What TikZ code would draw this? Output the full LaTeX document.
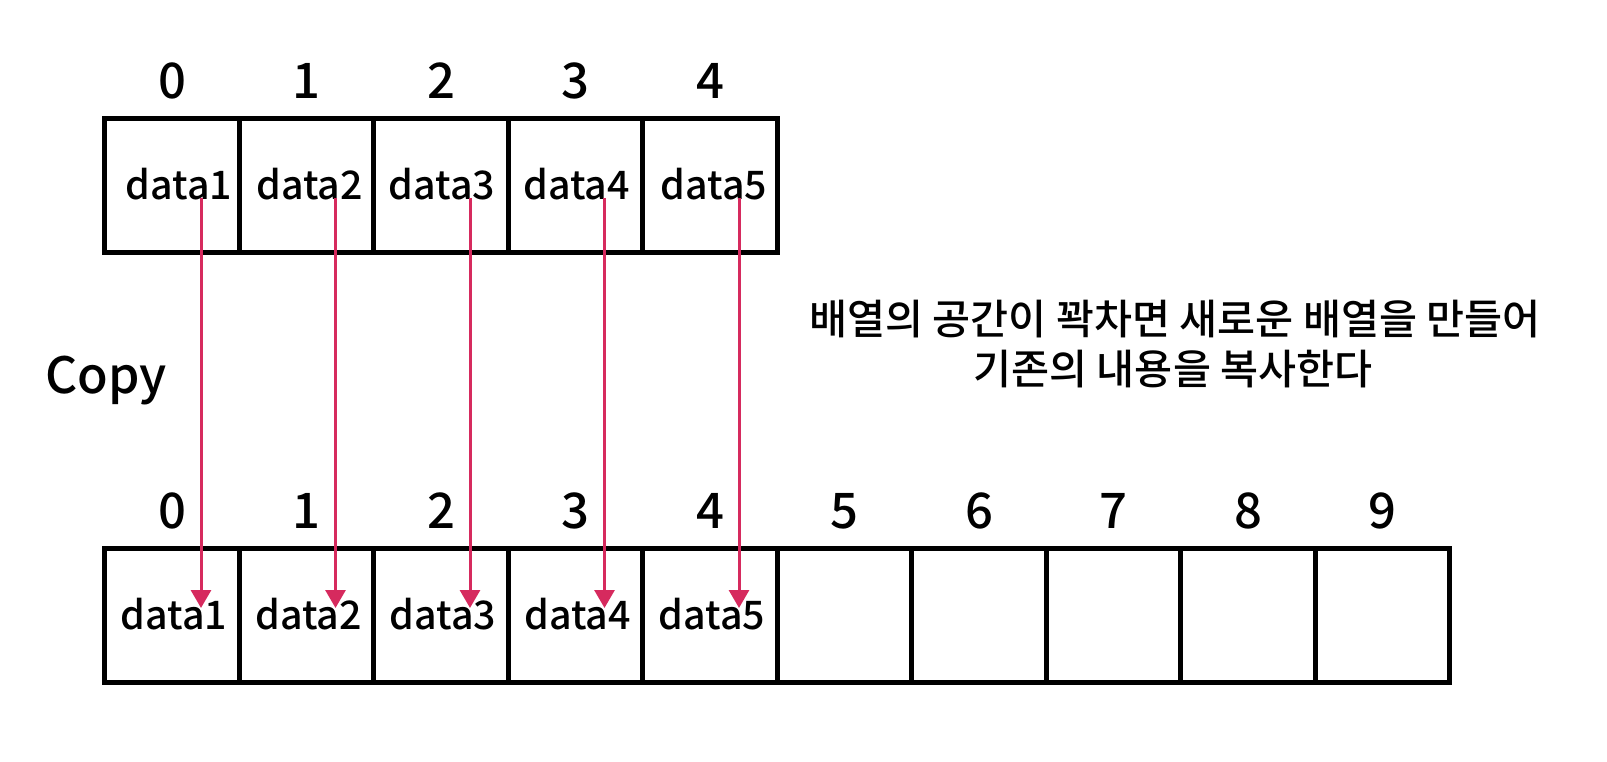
\documentclass[tikz,border=0pt]{standalone}
\usepackage{fontspec}
\setmainfont{Noto Sans CJK KR Medium}
\usetikzlibrary{arrows.meta}
\definecolor{arrowpink}{HTML}{D62A5E}
\begin{document}
\begin{tikzpicture}[x=0.75pt,y=-0.75pt,
  cellbox/.style={draw=black,line width=3.4pt,minimum width=134.5*0.75pt,minimum height=134*0.75pt,inner sep=0pt,outer sep=0pt},
  idxtext/.style={anchor=base,inner sep=0pt,font=\fontsize{36.75pt}{40pt}\selectfont},
  datatext/.style={anchor=base,inner sep=0pt,font=\fontsize{29.5pt}{34pt}\selectfont},
  copyarrow/.style={draw=arrowpink,line width=2.25pt,-{Triangle[length=13.5pt,width=15pt]}}
]
\useasboundingbox (0,0) rectangle (1607,761);
% top array
\foreach \i in {0,...,4}{
  \node[cellbox] (t\i) at ({172+134.5*\i},185.5) {};
  \node[idxtext] (ti\i) at ({172+134.5*\i},98) {\i};
}
% bottom array
\foreach \i in {0,...,9}{
  \node[cellbox] (b\i) at ({172+134.5*\i},615.5) {};
  \node[idxtext] (bi\i) at ({172+134.5*\i},528) {\i};
}
% data texts
\foreach \i/\dx in {0/7,1/3,2/1,3/1,4/4}{
  \pgfmathtruncatemacro{\n}{\i+1}
  \node[datatext] (td\i) at ({172+134.5*\i+\dx},199) {data\n};
  \node[datatext] (bd\i) at ({172+134.5*\i+2},629) {data\n};
}
% arrows
\foreach \i in {0,...,4}{
  \coordinate (s\i) at ({201+134.5*\i},198);
  \coordinate (e\i) at ({201+134.5*\i},608);
  \draw[copyarrow] (s\i) -- (e\i);
}
\node[anchor=base west,inner sep=0pt,font=\fontsize{37.5pt}{42pt}\selectfont] (copy) at (45,393) {Copy};
\node[anchor=base,inner sep=0pt,font=\fontsize{31pt}{36pt}\selectfont] (msg1) at (1175,334) {배열의 공간이 꽉차면 새로운 배열을 만들어};
\node[anchor=base,inner sep=0pt,font=\fontsize{31pt}{36pt}\selectfont] (msg2) at (1173,384) {기존의 내용을 복사한다};
\end{tikzpicture}
\end{document}
